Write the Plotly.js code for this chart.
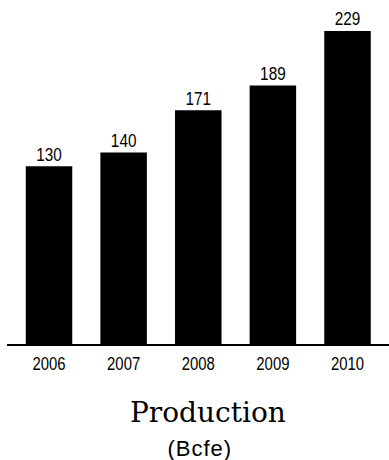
<!DOCTYPE html>
<html>
<head>
<meta charset="utf-8">
<script src="https://cdn.plot.ly/plotly-3.0.1.min.js"></script>
<style>
  html, body { margin: 0; padding: 0; background: #fff; }
  #chart { width: 389px; height: 460px; }
</style>
</head>
<body>
<div id="chart"></div>
<script>
// Annual production, billion cubic feet equivalent
const years = ['2006', '2007', '2008', '2009', '2010'];
const production = [130, 140, 171, 189, 229];

const sans = '"Liberation Sans", Arial, sans-serif';

const trace = {
  type: 'bar',
  x: years,
  y: production,
  marker: { color: '#000000', line: { width: 0 } },
  text: production.map(String),
  textposition: 'outside',
  textfont: { family: sans, size: 18, color: '#000' },
  cliponaxis: false,
  hoverinfo: 'none'
};

const layout = {
  width: 389,
  height: 460,
  margin: { l: 7, r: 0, t: 20, b: 116 },
  paper_bgcolor: '#fff',
  plot_bgcolor: '#fff',
  showlegend: false,
  bargap: 0.377,
  xaxis: {
    type: 'category',
    range: [-0.563, 4.556],
    showline: true,
    linecolor: '#000',
    linewidth: 2,
    ticks: '',
    showgrid: false,
    zeroline: false,
    tickfont: { family: sans, size: 17.5, color: '#000' },
    ticklabelstandoff: 3,
    fixedrange: true
  },
  yaxis: {
    range: [0, 237],
    visible: false,
    showgrid: false,
    zeroline: false,
    fixedrange: true
  },
  annotations: [
    {
      text: 'Production',
      xref: 'paper', yref: 'paper',
      x: 0.525, y: -0.21,
      xanchor: 'center', yanchor: 'middle',
      showarrow: false,
      font: { family: '"DejaVu Serif", serif', size: 28, color: '#000' }
    },
    {
      text: '(Bcfe)',
      xref: 'paper', yref: 'paper',
      x: 0.504, y: -0.324,
      xanchor: 'center', yanchor: 'middle',
      showarrow: false,
      font: { family: sans, size: 22, color: '#000' }
    }
  ]
};

// Narrow the numeric labels to a condensed look, nudge bar values down
// toward their bars, and letter-space the units line.
function condense(gd) {
  gd.querySelectorAll('.xtick text, .bartext').forEach(function (t) {
    const w = t.getComputedTextLength();
    t.setAttribute('lengthAdjust', 'spacingAndGlyphs');
    t.setAttribute('textLength', (w * 0.85).toFixed(2));
  });
  gd.querySelectorAll('.bartext').forEach(function (t) {
    const tr = t.getAttribute('transform') || '';
    t.setAttribute('transform', tr + ' translate(0,1.5)');
  });
  gd.querySelectorAll('.annotation-text').forEach(function (t) {
    if (t.textContent === '(Bcfe)') {
      const w = t.getComputedTextLength();
      t.setAttribute('lengthAdjust', 'spacing');
      t.setAttribute('textLength', (w + 5).toFixed(2));
    }
  });
}

Plotly.newPlot('chart', [trace], layout, { displayModeBar: false, staticPlot: true })
  .then(condense);
</script>
</body>
</html>
